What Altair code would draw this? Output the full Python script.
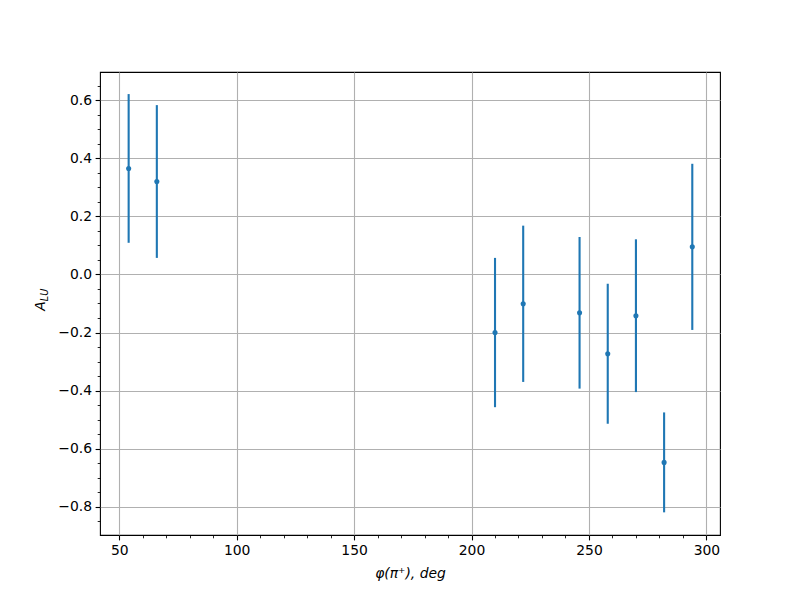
import altair as alt
import pandas as pd

# data
phi = [54, 66, 210, 222, 246, 258, 270, 282, 294]
alu = [0.365, 0.320, -0.200, -0.101, -0.132, -0.273, -0.142, -0.647, 0.095]
err = [0.256, 0.263, 0.257, 0.269, 0.261, 0.241, 0.263, 0.172, 0.286]

x_major = [50, 100, 150, 200, 250, 300]
x_minor = [60, 70, 80, 90, 110, 120, 130, 140, 160, 170, 180, 190,
           210, 220, 230, 240, 260, 270, 280, 290]
y_major = [-0.8, -0.6, -0.4, -0.2, 0.0, 0.2, 0.4, 0.6]
y_minor = [-0.85, -0.75, -0.7, -0.65, -0.55, -0.5, -0.45, -0.35, -0.3, -0.25,
           -0.15, -0.1, -0.05, 0.05, 0.1, 0.15, 0.25, 0.3, 0.35, 0.45, 0.5,
           0.55, 0.65]

x_domain = [41.8, 305.8]
y_domain = [-0.897, 0.697]

df = pd.DataFrame({"phi": phi, "alu": alu, "err": err})
df["lo"] = df["alu"] - df["err"]
df["hi"] = df["alu"] + df["err"]

COLOR = "#1f77b4"
FONT = "DejaVu Sans"

xs = alt.Scale(domain=x_domain, nice=False, zero=False)
ys = alt.Scale(domain=y_domain, nice=False, zero=False)

major_axis_common = dict(
    grid=True, gridColor="#b0b0b0", gridWidth=1.1,
    tickSize=4.9, tickWidth=1.1, tickColor="black",
    domain=False,
    labelFont=FONT, labelFontSize=13.9, labelColor="black",
    labelPadding=3.5,
    titleFont=FONT, titleFontSize=13.9, titleColor="black",
    titleFontWeight="normal",
)

base = alt.Chart(df)

bars = base.mark_rule(color=COLOR, strokeWidth=2.1).encode(
    x=alt.X("phi:Q", scale=xs,
            axis=alt.Axis(values=x_major, orient="bottom", format="d",
                          title="φ(π⁺), deg", titleFontStyle="italic",
                          titlePadding=9, **major_axis_common)),
    y=alt.Y("lo:Q", scale=ys,
            axis=alt.Axis(values=y_major, orient="left", format=".1f",
                          title="", **major_axis_common)),
    y2="hi:Q",
)

points = base.mark_circle(color=COLOR, size=26, opacity=1).encode(
    x=alt.X("phi:Q", scale=xs,
            axis=alt.Axis(values=x_minor, orient="bottom", labels=False,
                          grid=False, domain=False, title="",
                          tickSize=2.8, tickWidth=0.85, tickColor="black")),
    y=alt.Y("alu:Q", scale=ys,
            axis=alt.Axis(values=y_minor, orient="left", labels=False,
                          grid=False, domain=False, title="",
                          tickSize=2.8, tickWidth=0.85, tickColor="black")),
)

title_df = pd.DataFrame({"t": ["A"]})
ytitle_a = alt.Chart(title_df).mark_text(
    angle=270, align="center", baseline="alphabetic", font=FONT,
    fontSize=13.9, fontStyle="italic", color="black"
).encode(x=alt.value(-55), y=alt.value(234), text="t:N")

sub_df = pd.DataFrame({"t": ["LU"]})
ytitle_sub = alt.Chart(sub_df).mark_text(
    angle=270, align="center", baseline="alphabetic", font=FONT,
    fontSize=9.7, fontStyle="italic", color="black"
).encode(x=alt.value(-52.5), y=alt.value(223), text="t:N")

chart = alt.layer(bars, points, ytitle_a, ytitle_sub).resolve_axis(
    x="independent", y="independent"
).properties(
    width=620, height=463,
    autosize=alt.AutoSizeParams(type="none"),
    padding={"left": 92, "top": 64, "right": 72, "bottom": 57},
    background="white",
).configure_view(stroke="black", strokeWidth=1.1)

chart.save("out.html", embed_options={"renderer": "svg", "actions": False})
